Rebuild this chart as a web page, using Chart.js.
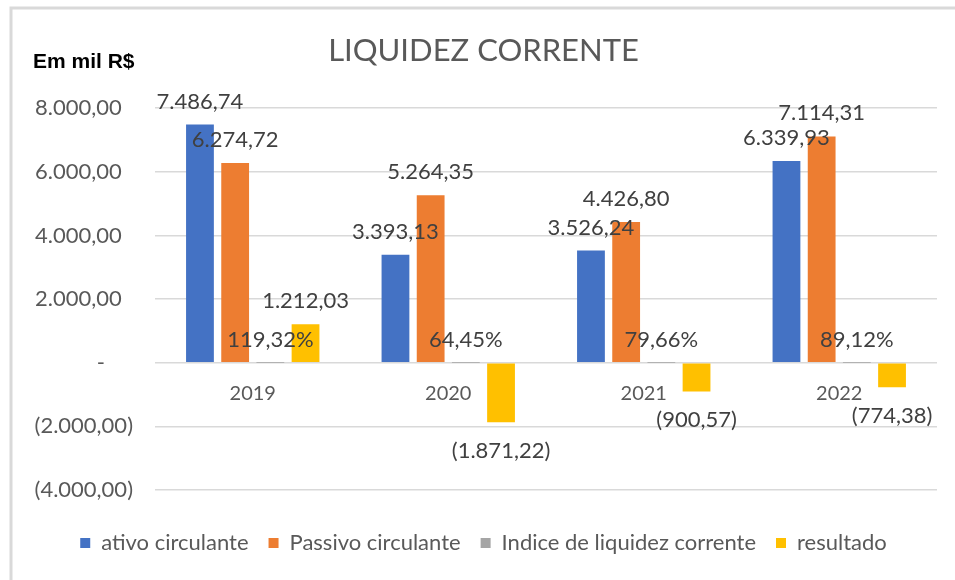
<!DOCTYPE html>
<html>
<head>
<meta charset="utf-8">
<script src="https://cdn.jsdelivr.net/npm/chart.js@4"></script>
<style>
  body { margin: 0; background: #fff; }
  #wrap { width: 955px; height: 580px; }
</style>
</head>
<body>
<div id="wrap"><canvas id="myChart" width="955" height="580"></canvas></div>
<script>
const anos = ['2019', '2020', '2021', '2022'];
const ativoCirculante = [7486.74, 3393.13, 3526.24, 6339.93];
const passivoCirculante = [6274.72, 5264.35, 4426.80, 7114.31];
const indiceLiquidez = [1.1932, 0.6445, 0.7966, 0.8912];
const resultado = [1212.03, -1871.22, -900.57, -774.38];

const fontFam = 'Lato, "Open Sans", sans-serif';
const textColor = '#595959';

function fmt(v) {
    const parts = Math.abs(v).toFixed(2).split('.');
    const inteiro = parts[0].replace(/\B(?=(\d{3})+(?!\d))/g, '.');
    const s = inteiro + ',' + parts[1];
    return v < 0 ? '(' + s + ')' : s;
}

function fmtPct(v) {
    return (v * 100).toFixed(2).replace('.', ',') + '%';
}

// eixo no estilo do Excel: espaço para o parêntese e traço no zero
function fmtTick(v) {
    if (v === 0) return '-     ';
    return v < 0 ? fmt(v) : fmt(v) + '  ';
}

// moldura, unidade, rótulos das categorias e dos valores
const extras = {
    id: 'extras',
    beforeDraw(chart) {
        const ctx = chart.ctx;
        ctx.save();
        ctx.strokeStyle = '#d9d9d9';
        ctx.lineWidth = 3;
        ctx.beginPath();
        ctx.moveTo(11, 580);
        ctx.lineTo(11, 8);
        ctx.lineTo(955, 8);
        ctx.stroke();
        ctx.restore();
    },
    afterDatasetsDraw(chart) {
        const ctx = chart.ctx;
        const x = chart.scales.x;
        const y = chart.scales.y;
        ctx.save();
        ctx.font = 'bold 21px "Liberation Sans", Arial, sans-serif';
        ctx.fillStyle = '#000';
        ctx.textAlign = 'left';
        ctx.textBaseline = 'middle';
        ctx.fillText('Em mil R$', 33, 62);

        ctx.font = '20px ' + fontFam;
        ctx.fillStyle = textColor;
        ctx.textAlign = 'center';
        const zero = y.getPixelForValue(0);
        anos.forEach((a, i) => ctx.fillText(a, x.getPixelForValue(i), zero + 31));

        ctx.font = '22px ' + fontFam;
        ctx.fillStyle = '#404040';
        chart.data.datasets.forEach((ds, di) => {
            const meta = chart.getDatasetMeta(di);
            meta.data.forEach((el, i) => {
                const v = ds.data[i];
                const txt = di === 2 ? fmtPct(v) : fmt(v);
                const ty = v >= 0 ? el.y - 23 : el.y + 29;
                ctx.fillText(txt, el.x, ty);
            });
        });
        ctx.restore();
    }
};

const ctx = document.getElementById('myChart').getContext('2d');
const myChart = new Chart(ctx, {
    type: 'bar',
    data: {
        labels: anos,
        datasets: [
            { label: 'ativo circulante', data: ativoCirculante, backgroundColor: '#4472C4' },
            { label: 'Passivo circulante', data: passivoCirculante, backgroundColor: '#ED7D31' },
            { label: 'Indice de liquidez corrente', data: indiceLiquidez, backgroundColor: '#A5A5A5' },
            { label: 'resultado', data: resultado, backgroundColor: '#FFC000' }
        ]
    },
    options: {
        responsive: false,
        animation: false,
        layout: { padding: { left: 30, right: 18, top: 0, bottom: 16 } },
        datasets: {
            bar: { categoryPercentage: 0.72, barPercentage: 0.79 }
        },
        plugins: {
            title: {
                display: true,
                text: 'LIQUIDEZ CORRENTE',
                color: textColor,
                font: { family: fontFam, size: 31, weight: 'normal' },
                padding: { top: 32, bottom: 39 }
            },
            legend: {
                position: 'bottom',
                labels: {
                    color: textColor,
                    font: { family: fontFam, size: 22 },
                    boxWidth: 10,
                    boxHeight: 10,
                    padding: 20
                }
            },
            tooltip: { enabled: false }
        },
        scales: {
            x: {
                display: true,
                grid: { display: false },
                border: { display: false },
                ticks: { display: false },
                afterFit(scale) { scale.height = 22; }
            },
            y: {
                min: -4000,
                max: 8000,
                border: { display: false },
                grid: { color: '#d9d9d9', lineWidth: 1.5, drawTicks: false },
                afterFit(scale) { scale.width = 125; },
                ticks: {
                    stepSize: 2000,
                    padding: 22,
                    color: textColor,
                    font: { family: fontFam, size: 22 },
                    callback: v => fmtTick(v)
                }
            }
        }
    },
    plugins: [extras]
});
</script>
</body>
</html>
